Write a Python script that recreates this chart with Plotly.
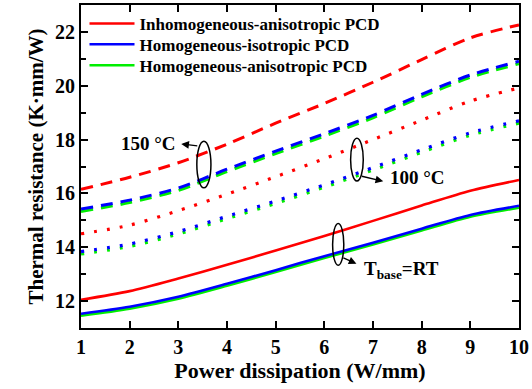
import plotly.graph_objects as go

power = [1, 2, 3, 4, 5, 6, 7, 8, 9, 10]

rt_inhomo = [12.05, 12.37, 12.84, 13.35, 13.88, 14.42, 14.98, 15.55, 16.10, 16.50]
rt_iso = [11.53, 11.79, 12.16, 12.64, 13.15, 13.67, 14.17, 14.69, 15.20, 15.54]
rt_aniso = [11.46, 11.72, 12.09, 12.57, 13.08, 13.60, 14.10, 14.62, 15.13, 15.47]

t100_inhomo = [14.50, 14.82, 15.36, 15.97, 16.62, 17.29, 18.00, 18.72, 19.43, 19.92]
t100_iso = [13.84, 14.12, 14.58, 15.15, 15.72, 16.32, 16.96, 17.62, 18.25, 18.70]
t100_aniso = [13.75, 14.03, 14.49, 15.06, 15.63, 16.23, 16.87, 17.53, 18.16, 18.61]

t150_inhomo = [16.15, 16.60, 17.14, 17.83, 18.61, 19.34, 20.13, 20.97, 21.78, 22.26]
t150_iso = [15.42, 15.75, 16.20, 16.90, 17.57, 18.22, 18.90, 19.68, 20.40, 20.91]
t150_aniso = [15.33, 15.66, 16.11, 16.81, 17.48, 18.13, 18.81, 19.59, 20.31, 20.82]

names = ["Inhomogeneous-anisotropic PCD", "Homogeneous-isotropic PCD",
         "Homogeneous-anisotropic PCD"]
colors = ["#ff0000", "#0000ff", "#00ee00"]
legend_ids = ["legend", "legend2", "legend3"]
legend_y = [0.9415, 0.877, 0.812]

FONT = "Liberation Serif, Times New Roman, serif"

fig = go.Figure()

groups = [
    (rt_inhomo, rt_iso, rt_aniso, "solid", 2.6, True),
    (t100_inhomo, t100_iso, t100_aniso, "3px,10px", 3.2, False),
    (t150_inhomo, t150_iso, t150_aniso, "12px,8px", 3.0, False),
]
for inh, iso, ani, dash, w, leg in groups:
    for idx in (0, 2, 1):
        ys = (inh, iso, ani)[idx]
        fig.add_trace(go.Scatter(
            x=power, y=ys, mode="lines", name=names[idx],
            line=dict(color=colors[idx], width=w, dash=dash, shape="spline", smoothing=0.8),
            showlegend=leg, legend=legend_ids[idx],
        ))

# ellipses (data coordinates)
ellipses = [
    (3.38, 3.67, 16.21, 17.94),
    (6.54, 6.80, 16.46, 18.05),
    (6.17, 6.40, 13.33, 14.88),
]
for x0, x1, y0, y1 in ellipses:
    fig.add_shape(type="circle", xref="x", yref="y", x0=x0, x1=x1, y0=y0, y1=y1,
                  line=dict(color="black", width=1.5))

# arrows: (head x, head y, tail x, tail y)
arrows = [
    (3.06, 17.84, 3.42, 17.76),
    (7.21, 16.45, 6.74, 16.65),
    (6.66, 13.39, 6.36, 13.63),
]
for hx, hy, tx, ty in arrows:
    fig.add_annotation(x=hx, y=hy, ax=tx, ay=ty, xref="x", yref="y", axref="x", ayref="y",
                       text="", showarrow=True, arrowhead=2, arrowsize=1.1, arrowwidth=1.4,
                       arrowcolor="black")

labels = [
    (2.38, 17.87, "150 °C"),
    (7.92, 16.61, "100 °C"),
    (7.58, 13.14, "T<sub>base</sub>=RT"),
]
for lx, ly, lt in labels:
    fig.add_annotation(x=lx, y=ly, xref="x", yref="y", text="<b>" + lt + "</b>", showarrow=False,
                       font=dict(family=FONT, size=19, color="black"))

axis_common = dict(
    showline=True, linecolor="black", linewidth=2, mirror="allticks",
    ticks="inside", ticklen=7, tickwidth=1.5, tickcolor="black",
    showgrid=False, zeroline=False, ticklabeloverflow="allow",
    tickfont=dict(family=FONT, size=20, color="black", weight="bold"),
)

fig.update_xaxes(range=[1, 10], dtick=1, tick0=1,
                 title=dict(text="<b>Power dissipation (W/mm)</b>", standoff=6,
                            font=dict(family=FONT, size=22, color="black")),
                 **axis_common)
fig.update_yaxes(range=[11, 23], dtick=2, tick0=12,
                 minor=dict(dtick=1, tick0=11, ticks="inside", ticklen=5, tickwidth=1.5,
                            tickcolor="black"),
                 title=dict(text="<b>Thermal resistance (K·mm/W)</b>", standoff=6,
                            font=dict(family=FONT, size=21, color="black")),
                 **axis_common)

legend_style = dict(xanchor="left", yanchor="middle", bgcolor="rgba(0,0,0,0)",
                    itemwidth=45,
                    font=dict(family=FONT, size=17, color="black", weight="bold"))
layout_legends = {}
for lid, ly in zip(legend_ids, legend_y):
    layout_legends[lid] = dict(x=0.008, y=ly, **legend_style)

fig.update_layout(
    width=532, height=389,
    margin=dict(l=81, r=8, t=3, b=61),
    paper_bgcolor="white", plot_bgcolor="white",
    showlegend=True,
    **layout_legends,
)

fig.write_html("out.html")
